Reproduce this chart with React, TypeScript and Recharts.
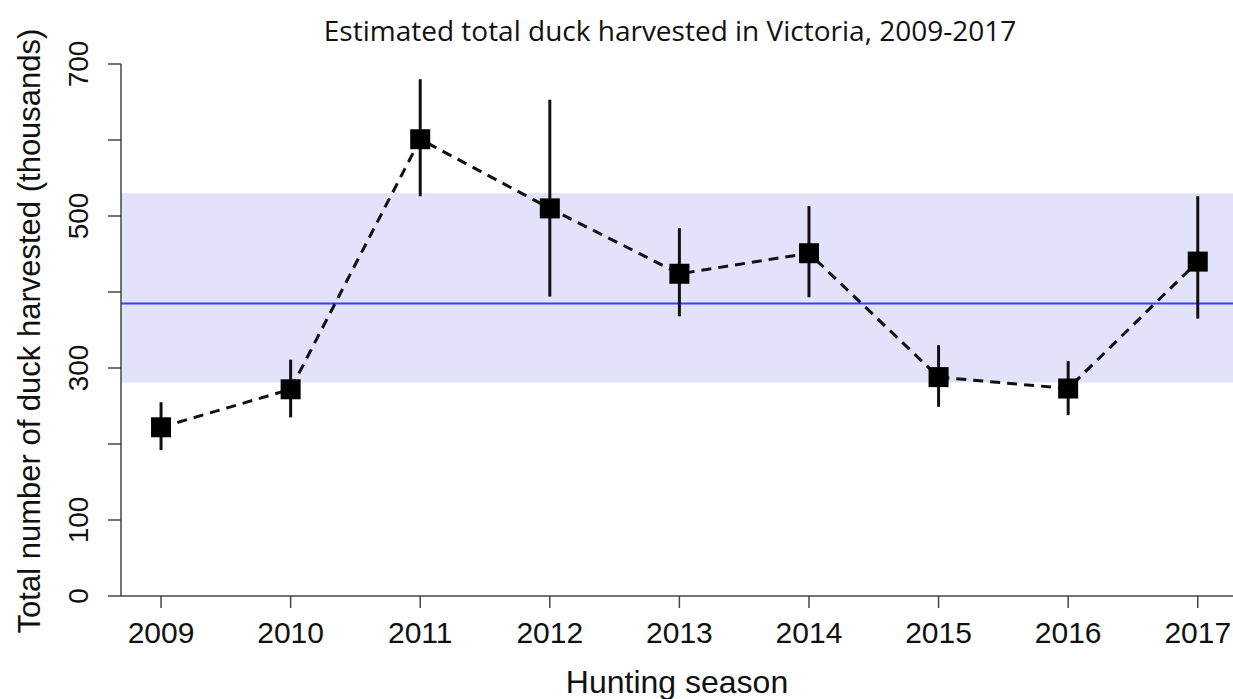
import {
  ComposedChart,
  Line,
  XAxis,
  YAxis,
  ErrorBar,
  ReferenceArea,
  ReferenceLine,
  Label,
} from "recharts";

// Hunting seasons and estimated harvest (thousands of ducks)
const seasons = [2009, 2010, 2011, 2012, 2013, 2014, 2015, 2016, 2017];
const estimates = [222, 272, 601, 510, 424, 451, 288, 273, 440];
const lowerCI = [192, 235, 526, 394, 368, 393, 249, 238, 365];
const upperCI = [255, 311, 680, 653, 484, 513, 330, 309, 526];

// long-term average and its range (shaded band)
const bandLow = 281;
const bandHigh = 530;
const bandMean = 385;

const yTicks = [0, 100, 200, 300, 400, 500, 600, 700];
const yLabelled = [0, 100, 300, 500, 700];

const data = seasons.map((season, i) => ({
  season,
  harvest: estimates[i],
  ci: [estimates[i] - lowerCI[i], upperCI[i] - estimates[i]],
}));

const AXIS = "#444";
const FONT = "'Liberation Sans', Arial, sans-serif";

function SquareDot(props: { cx?: number; cy?: number; index?: number }) {
  const { cx, cy } = props;
  if (cx == null || cy == null) return null;
  return <rect x={cx - 10} y={cy - 10} width={20} height={20} fill="#000" />;
}

function YTick(props: { x: number; y: number; payload: { value: number } }) {
  const { x, y, payload } = props;
  if (!yLabelled.includes(payload.value)) return null;
  const cx = x - 28;
  return (
    <text
      x={cx}
      y={y}
      transform={`rotate(-90, ${cx}, ${y})`}
      textAnchor="middle"
      dominantBaseline="central"
      fontSize={28}
      fontFamily={FONT}
      fill="#111"
    >
      {payload.value}
    </text>
  );
}

export default function App() {
  return (
    <div
      style={{
        position: "absolute",
        left: 0,
        top: 0,
        width: 1233,
        height: 699,
        background: "#fff",
      }}
    >
      <div
        style={{
          position: "absolute",
          left: 0,
          top: 10,
          width: 1340,
          textAlign: "center",
          fontFamily: "'Open Sans', sans-serif",
          fontSize: 28,
          lineHeight: "40px",
          color: "#111",
        }}
      >
        Estimated total duck harvested in Victoria, 2009-2017
      </div>
      <ComposedChart
        width={1233}
        height={699}
        data={data}
        margin={{ top: 64, right: 0, bottom: 43, left: 0 }}
      >
        <ReferenceArea
          y1={bandLow}
          y2={bandHigh}
          fill="#e2e2fa"
          fillOpacity={1}
          stroke="none"
          ifOverflow="extendDomain"
        />
        <ReferenceLine y={bandMean} stroke="#3d3dff" strokeWidth={2} />
        <XAxis
          type="number"
          dataKey="season"
          domain={[2008.691, 2017.272]}
          allowDataOverflow
          ticks={seasons}
          interval={0}
          height={60}
          tickSize={12}
          tickMargin={14}
          axisLine={{ stroke: AXIS, strokeWidth: 1.5 }}
          tickLine={{ stroke: AXIS, strokeWidth: 1.5 }}
          tick={{ fontSize: 30, fontFamily: FONT, fill: "#111" }}
        >
          <Label
            content={() => (
              <text
                x={677}
                y={693}
                textAnchor="middle"
                fontSize={32}
                fontFamily={FONT}
                fill="#111"
              >
                Hunting season
              </text>
            )}
          />
        </XAxis>
        <YAxis
          type="number"
          domain={[0, 700]}
          ticks={yTicks}
          interval={0}
          width={121}
          tickSize={13}
          axisLine={{ stroke: AXIS, strokeWidth: 1.5 }}
          tickLine={{ stroke: AXIS, strokeWidth: 1.5 }}
          tick={(p: any) => <YTick key={p.index} {...p} />}
        >
          <Label
            content={() => (
              <text
                x={40}
                y={331}
                transform="rotate(-90, 40, 331)"
                textAnchor="middle"
                fontSize={31}
                fontFamily={FONT}
                fill="#111"
              >
                Total number of duck harvested (thousands)
              </text>
            )}
          />
        </YAxis>
        <Line
          type="linear"
          dataKey="harvest"
          stroke="#111"
          strokeWidth={3}
          strokeDasharray="10 7"
          dot={(p: any) => <SquareDot key={p.index} {...p} />}
          activeDot={false}
          isAnimationActive={false}
        >
          <ErrorBar
            dataKey="ci"
            direction="y"
            width={0}
            stroke="#111"
            strokeWidth={3}
          />
        </Line>
      </ComposedChart>
    </div>
  );
}
